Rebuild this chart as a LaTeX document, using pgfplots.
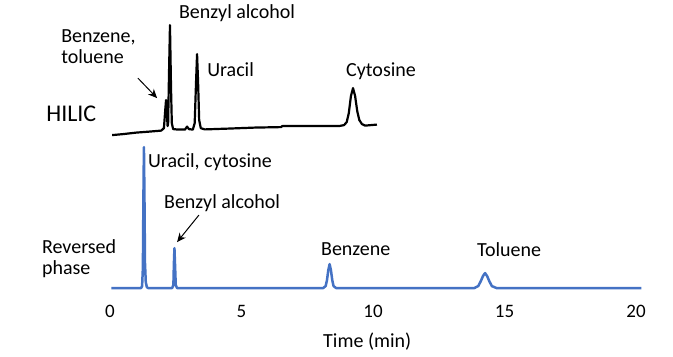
\documentclass[border=0pt]{standalone}
\usepackage{pgfplots}
\pgfplotsset{compat=1.18}
\usepackage{fontspec}
\setmainfont{Carlito}
\usetikzlibrary{arrows.meta}
\definecolor{rpblue}{RGB}{68,114,196}
\tikzset{lbl/.style={anchor=base west, inner sep=0pt, font=\fontsize{20}{24}\selectfont}}
\begin{document}
\begin{tikzpicture}
\begin{axis}[
  scale only axis,
  width=673pt, height=356pt,
  xmin=-4.183, xmax=21.407,
  ymin=-68, ymax=288,
  clip=false,
  axis line style={draw=none},
  ytick=\empty,
  xtick={0,5,10,15,20},
  major tick length=0pt,
  /pgf/number format/assume math mode=true,
  xticklabel style={font=\fontsize{19}{22}\selectfont, anchor=base, yshift=39pt},
]
% HILIC trace
\addplot[black, line width=2.2pt, line join=round] coordinates {
(0.08,153) (0.5,154) (1.0,155.5) (1.5,156.5) (1.95,157.5)
(2.05,160) (2.10,178) (2.13,188) (2.16,175) (2.19,162) (2.21,165)
(2.24,210) (2.28,263) (2.32,200) (2.35,165) (2.40,159) (2.60,158.5)
(2.85,158.5) (2.93,161.5) (3.00,159) (3.15,158.5) (3.22,165)
(3.27,205) (3.31,234) (3.35,205) (3.39,168) (3.45,160) (3.60,158.7)
(4.5,159.5) (5.5,160.5) (6.5,161) (6.55,162) (7.5,162) (8.7,162)
(8.9,163) (9.0,166) (9.08,175) (9.16,192) (9.24,200) (9.32,192)
(9.40,177) (9.48,168) (9.58,164) (9.70,162.5) (10.15,163.5)
};
% Reversed phase trace
\addplot[rpblue, line width=2.5pt, line join=round] coordinates {
(0.05,0) (1.18,0) (1.22,2) (1.25,20) (1.27,90) (1.29,141) (1.31,90)
(1.33,25) (1.36,6) (1.40,1) (1.45,0)
(2.36,0) (2.41,3) (2.43,25) (2.45,40) (2.47,25) (2.50,3) (2.55,0)
(8.10,0) (8.20,2) (8.25,8) (8.30,18) (8.35,24) (8.40,18) (8.45,8) (8.50,2) (8.60,0)
(13.85,0) (14.00,2) (14.10,7) (14.18,12) (14.26,15) (14.34,12) (14.42,7) (14.52,2) (14.70,0)
(20.2,0)
};
% labels
\node[lbl] at (axis cs:2.62,270) {Benzyl alcohol};
\node[lbl] at (axis cs:-1.86,246) {Benzene,};
\node[lbl] at (axis cs:-1.86,225) {toluene};
\node[lbl] at (axis cs:3.69,212) {Uracil};
\node[lbl] at (axis cs:8.97,212) {Cytosine};
\node[lbl, font=\fontsize{24}{28}\selectfont] at (axis cs:-2.43,167) {HILIC};
\node[lbl] at (axis cs:-2.59,35) {Reversed};
\node[lbl] at (axis cs:-2.59,14) {phase};
\node[lbl] at (axis cs:1.44,121) {Uracil, cytosine};
\node[lbl] at (axis cs:2.05,80) {Benzyl alcohol};
\node[lbl] at (axis cs:8.02,33) {Benzene};
\node[lbl] at (axis cs:13.95,32) {Toluene};
\node[lbl] at (axis cs:8.10,-59) {Time (min)};
% arrows
\draw[line width=1pt, -{Stealth[length=9pt,width=8pt]}] (axis cs:1.06,210) -- (axis cs:1.79,190);
\draw[line width=1pt, -{Stealth[length=9pt,width=8pt]}] (axis cs:3.38,73) -- (axis cs:2.55,46);
\end{axis}
\end{tikzpicture}
\end{document}
